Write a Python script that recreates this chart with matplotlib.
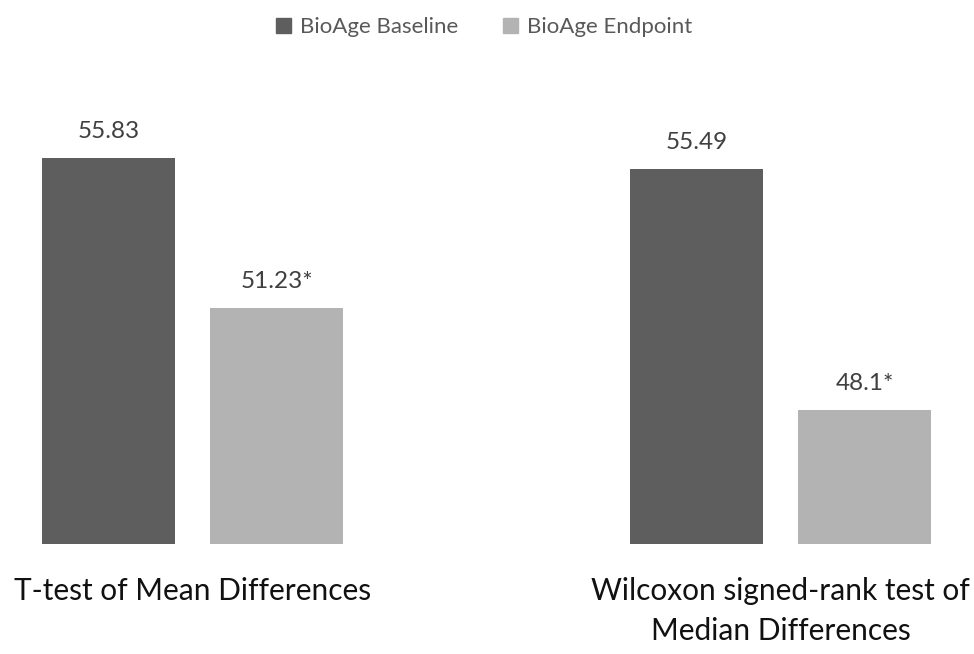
import numpy as np
import matplotlib.pyplot as plt
from matplotlib.patches import Patch

# chart data
categories = ["T-test of Mean Differences", "Wilcoxon signed-rank test of\nMedian Differences"]
series_names = ["BioAge Baseline", "BioAge Endpoint"]
baseline = [55.83, 55.49]
endpoint = [51.23, 48.1]
baseline_labels = ["55.83", "55.49"]
endpoint_labels = ["51.23*", "48.1*"]

colors = ["#5e5e5e", "#b3b3b3"]

plt.rcParams['font.family'] = ['Lato', 'DejaVu Sans']

fig = plt.figure(figsize=(9.74, 6.54), dpi=100)
# axes placed so the bar base (y=44) sits at pixel row 544
ax = fig.add_axes([0, 110 / 654, 1, 464 / 654])

x = np.arange(len(categories))
w = 133 / 588
off = 84 / 588

b1 = ax.bar(x - off, baseline, w, bottom=0, color=colors[0])
b2 = ax.bar(x + off, endpoint, w, bottom=0, color=colors[1])

ax.bar_label(b1, labels=baseline_labels, padding=12, fontsize=17.5, color="#404040")
ax.bar_label(b2, labels=endpoint_labels, padding=12, fontsize=17.5, color="#404040")

ax.set_ylim(44, 44 + 464 / 32.6)
ax.set_xlim(-192.5 / 588, (974 - 192.5) / 588)

ax.set_xticks(x)
ax.set_xticklabels(categories, fontsize=21.5, color="#111111", linespacing=1.5)
ax.tick_params(axis='x', length=0, pad=24)
ax.set_yticks([])
for s in ax.spines.values():
    s.set_visible(False)

handles = [Patch(color=c) for c in colors]
fig.legend(handles, series_names, loc='center', bbox_to_anchor=(0.497, 0.958),
           ncol=2, frameon=False, fontsize=16, labelcolor="#595959",
           handlelength=0.7, handleheight=0.7, handletextpad=0.4, columnspacing=2.0)

fig.savefig("out.png", dpi=100)
